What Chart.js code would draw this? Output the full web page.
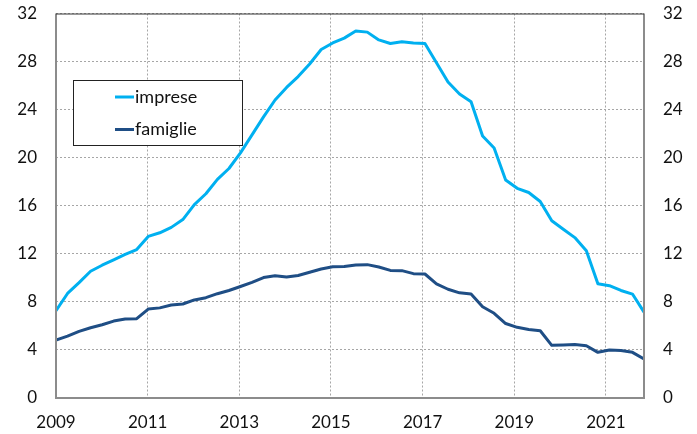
<!DOCTYPE html>
<html><head><meta charset="utf-8">
<script src="https://cdn.jsdelivr.net/npm/chart.js@4/dist/chart.umd.min.js"></script>
<style>html,body{margin:0;padding:0;background:#fff;}#wrap{width:697px;height:434px;position:relative}</style>
</head><body><div id="wrap"><canvas id="c" width="697" height="434"></canvas></div>
<script>
// categories: quarterly observations 2009 T1 .. 2021 T4
const quarters = [];
for (let y = 2009; y <= 2021; y++) for (let q = 1; q <= 4; q++) quarters.push(y + ' T' + q);
const xTickLabels = [2009, 2011, 2013, 2015, 2017, 2019, 2021];
const yTickLabels = [0, 4, 8, 12, 16, 20, 24, 28, 32];
const seriesNames = ['imprese', 'famiglie'];
const imprese = [7.26, 8.7, 9.6, 10.55, 11.05, 11.5, 11.95, 12.35, 13.45, 13.75, 14.2, 14.85,
  16.1, 17.0, 18.2, 19.1, 20.4, 21.9, 23.4, 24.8, 25.85, 26.75, 27.8, 29.0,
  29.55, 29.95, 30.55, 30.45, 29.8, 29.5, 29.65, 29.55, 29.5, 27.9, 26.3, 25.3,
  24.65, 21.8, 20.8, 18.15, 17.45, 17.1, 16.35, 14.75, 14.05, 13.35, 12.25, 9.5,
  9.35, 8.95, 8.65, 7.15];
const famiglie = [4.83, 5.15, 5.55, 5.85, 6.1, 6.4, 6.57, 6.6, 7.4, 7.5, 7.74, 7.82,
  8.16, 8.35, 8.68, 8.95, 9.28, 9.63, 10.02, 10.18, 10.07, 10.2, 10.46, 10.74,
  10.93, 10.95, 11.07, 11.1, 10.9, 10.62, 10.6, 10.35, 10.32, 9.5, 9.05, 8.75,
  8.65, 7.6, 7.05, 6.2, 5.88, 5.7, 5.6, 4.38, 4.42, 4.45, 4.35, 3.8,
  4.0, 3.95, 3.8, 3.25];

const X_MIN = 2009, X_MAX = 2021.83;
const toXY = arr => arr.map((v, i) => ({ x: X_MIN + i * (X_MAX - X_MIN) / (quarters.length - 1), y: v }));
const COL_IMP = '#00b0f0', COL_FAM = '#1f4e85';
const FONT = 'Lato, "Open Sans", sans-serif';

const frame = {
  id: 'frame',
  afterDatasetsDraw(chart) {
    const { ctx, chartArea: a } = chart;
    ctx.save();
    ctx.strokeStyle = '#8c8c8c';
    ctx.lineWidth = 2;
    ctx.beginPath();
    ctx.moveTo(a.left, a.top); ctx.lineTo(a.left, a.bottom); ctx.lineTo(a.right, a.bottom); ctx.lineTo(a.right, a.top);
    ctx.stroke();
    ctx.strokeStyle = '#333';
    ctx.lineWidth = 1;
    ctx.beginPath();
    ctx.moveTo(a.left, a.top + 0.5); ctx.lineTo(a.right, a.top + 0.5);
    ctx.stroke();
    // legend
    const bx = 73.5, by = 80.5, bw = 169, bh = 65;
    ctx.fillStyle = '#fff';
    ctx.fillRect(bx, by, bw, bh);
    ctx.strokeStyle = '#222';
    ctx.lineWidth = 1;
    ctx.strokeRect(bx, by, bw, bh);
    const items = [[seriesNames[0], COL_IMP, 97], [seriesNames[1], COL_FAM, 129.5]];
    ctx.font = '18px ' + FONT;
    ctx.textBaseline = 'middle';
    ctx.textAlign = 'left';
    items.forEach(([t, c, y]) => {
      ctx.strokeStyle = c; ctx.lineWidth = 3;
      ctx.beginPath(); ctx.moveTo(115, y); ctx.lineTo(134, y); ctx.stroke();
      ctx.fillStyle = '#111';
      ctx.fillText(t, 135, y);
    });
    ctx.restore();
  }
};

const yScale = (pos, w, grid) => ({
  type: 'linear', position: pos, min: 0, max: 32,
  afterBuildTicks: s => { s.ticks = yTickLabels.map(v => ({ value: v })); },
  afterFit: s => { s.width = w; s.paddingTop = 0; s.paddingBottom = 0; },
  ticks: { color: '#111', font: { family: FONT, size: 17 }, padding: 19, callback: v => String(v) },
  grid: { display: grid, color: '#a6a6a6', lineWidth: 1, drawTicks: false },
  border: { display: false, dash: [2, 2] }
});

new Chart(document.getElementById('c'), {
  type: 'line',
  data: {
    datasets: [
      { label: seriesNames[0], data: toXY(imprese), borderColor: COL_IMP, borderWidth: 3, pointRadius: 0, tension: 0, borderJoinStyle: 'round', yAxisID: 'y' },
      { label: seriesNames[1], data: toXY(famiglie), borderColor: COL_FAM, borderWidth: 3, pointRadius: 0, tension: 0, borderJoinStyle: 'round', yAxisID: 'y' }
    ]
  },
  options: {
    responsive: false, animation: false, devicePixelRatio: 1,
    layout: { padding: { top: 13.5, left: 0, right: 0, bottom: 0 } },
    plugins: { legend: { display: false }, tooltip: { enabled: false } },
    scales: {
      x: {
        type: 'linear', min: X_MIN, max: X_MAX,
        afterBuildTicks: s => { s.ticks = xTickLabels.map(v => ({ value: v })); },
        afterFit: s => { s.height = 36; s.paddingLeft = 0; s.paddingRight = 0; },
        ticks: { color: '#111', font: { family: FONT, size: 17 }, padding: 14, maxRotation: 0, autoSkip: false, callback: v => String(v) },
        grid: { color: '#a6a6a6', lineWidth: 1, drawTicks: false },
        border: { display: false, dash: [2, 2] }
      },
      y: yScale('left', 56, true),
      y2: yScale('right', 53, false)
    }
  },
  plugins: [frame]
});
</script></body></html>
